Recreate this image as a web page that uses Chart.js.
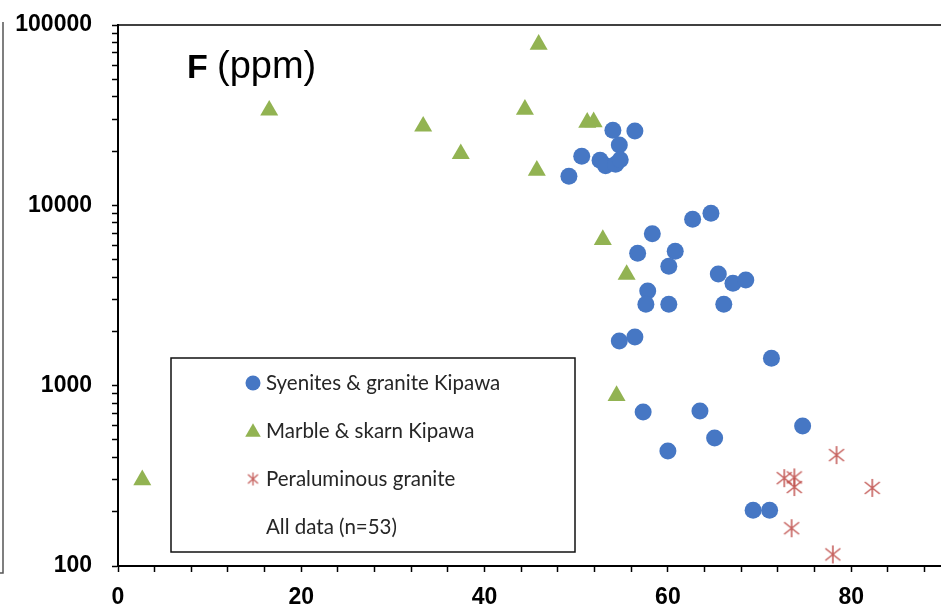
<!DOCTYPE html>
<html>
<head>
<meta charset="utf-8">
<script src="https://cdn.jsdelivr.net/npm/chart.js@4.4.1/dist/chart.umd.min.js"></script>
<style>
  html, body { margin: 0; padding: 0; background: #fff; overflow: hidden; }
  canvas { display: block; }
</style>
</head>
<body>
<canvas id="chart" width="941" height="613"></canvas>
<script>
// F (ppm) against x, three rock groups
var syeniteX = [54.0, 56.4, 54.7, 50.6, 52.6, 53.2, 54.3, 54.8, 49.2, 62.7, 64.7, 58.3, 56.7, 60.8, 60.1, 65.5,
                67.1, 68.5, 57.8, 57.6, 60.1, 66.1, 54.7, 56.4, 71.3, 57.3, 63.5, 65.1, 60.0, 74.7, 69.3, 71.1];
var syeniteF = [26100, 25800, 21600, 18700, 17800, 16600, 16900, 17900, 14500, 8380, 9050, 6950, 5430, 5570, 4600, 4160,
                3700, 3850, 3345, 2830, 2830, 2830, 1770, 1860, 1420, 714, 723, 512, 434, 597, 204, 204];

var marbleX = [2.65, 16.5, 33.3, 37.4, 45.9, 44.4, 45.7, 51.2, 51.9, 52.9, 55.5, 54.4];
var marbleF = [300, 33600, 27400, 19300, 78000, 34000, 15600, 28800, 29000, 6450, 4130, 880];

var peralX = [78.4, 72.7, 73.8, 73.8, 82.3, 73.5, 78.0];
var peralF = [412, 307, 310, 274, 271, 162, 116];

var xTickLabels = [0, 20, 40, 60, 80];
var yTickLabels = [100, 1000, 10000, 100000];

var blue = '#4677C4';
var green = '#92B352';
var red = 'rgba(192, 80, 77, 0.9)';

function pairs(xs, ys) {
  return xs.map(function (x, i) { return { x: x, y: ys[i] }; });
}

// Excel style star: an X with a vertical bar
function starMarker(w, h, lw) {
  var c = document.createElement('canvas');
  c.width = w; c.height = h;
  var g = c.getContext('2d');
  g.strokeStyle = red;
  g.lineWidth = lw;
  g.beginPath();
  g.moveTo(w / 2, 1); g.lineTo(w / 2, h - 1);
  g.moveTo(1.5, h * 0.2); g.lineTo(w - 1.5, h * 0.8);
  g.moveTo(w - 1.5, h * 0.2); g.lineTo(1.5, h * 0.8);
  g.stroke();
  return c;
}
var star = starMarker(18, 20, 1.6);
var starSmall = starMarker(13, 15, 1.3);

// log minor ticks 1..9 per decade
var yTicks = [];
for (var d = 0; d < yTickLabels.length - 1; d++) {
  for (var k = 1; k < 10; k++) yTicks.push(yTickLabels[d] * k);
}
yTicks.push(yTickLabels[yTickLabels.length - 1]);

var fontFamily = '"Liberation Sans", Arial, sans-serif';

function noPadding(s) {
  s.paddingLeft = 0; s.paddingRight = 0; s.paddingTop = 0; s.paddingBottom = 0;
}

var overlay = {
  id: 'overlay',
  afterDraw: function (chart) {
    var ctx = chart.ctx, a = chart.chartArea;
    ctx.save();
    // top frame line
    ctx.strokeStyle = '#000';
    ctx.lineWidth = 1.5;
    ctx.beginPath(); ctx.moveTo(a.left, a.top); ctx.lineTo(a.right, a.top); ctx.stroke();
    // left panel edge
    ctx.strokeStyle = '#555';
    ctx.lineWidth = 1.5;
    ctx.beginPath(); ctx.moveTo(3, 22); ctx.lineTo(3, 573); ctx.lineTo(0, 573); ctx.stroke();

    // title
    ctx.fillStyle = '#000';
    ctx.textBaseline = 'alphabetic';
    ctx.textAlign = 'left';
    ctx.font = 'bold 34px ' + fontFamily;
    ctx.fillText('F', 187, 78);
    ctx.font = '38px ' + fontFamily;
    ctx.fillText('(ppm)', 217, 78);

    // legend box
    var bx = 171, by = 358, bw = 404, bh = 194;
    ctx.strokeStyle = '#111';
    ctx.lineWidth = 1.5;
    ctx.strokeRect(bx, by, bw, bh);
    ctx.font = '20.5px Lato, "Open Sans", sans-serif';
    ctx.textBaseline = 'middle';
    chart.data.datasets.forEach(function (ds, i) {
      var cy = 383 + i * 48, mx = 253;
      if (ds.pointStyle === 'circle') {
        ctx.fillStyle = ds.backgroundColor;
        ctx.beginPath(); ctx.arc(mx, cy, 7.5, 0, Math.PI * 2); ctx.fill();
      } else if (ds.pointStyle === 'triangle') {
        var r = 9;
        ctx.fillStyle = ds.backgroundColor;
        ctx.beginPath();
        ctx.moveTo(mx, cy - r * 0.85);
        ctx.lineTo(mx + r * 0.866, cy + r * 0.65);
        ctx.lineTo(mx - r * 0.866, cy + r * 0.65);
        ctx.closePath(); ctx.fill();
      } else if (ds.pointStyle instanceof HTMLCanvasElement) {
        ctx.drawImage(starSmall, mx - 6.5, cy - 7.5);
      }
      ctx.fillStyle = '#262626';
      ctx.fillText(ds.label, 266, cy);
    });
    ctx.restore();
  }
};

new Chart(document.getElementById('chart'), {
  type: 'scatter',
  data: {
    datasets: [
      {
        label: 'Syenites & granite Kipawa',
        data: pairs(syeniteX, syeniteF),
        pointStyle: 'circle',
        pointRadius: 8.5,
        backgroundColor: blue,
        borderColor: blue,
        borderWidth: 0
      },
      {
        label: 'Marble & skarn Kipawa',
        data: pairs(marbleX, marbleF),
        pointStyle: 'triangle',
        pointRadius: 10.4,
        backgroundColor: green,
        borderColor: green,
        borderWidth: 0
      },
      {
        label: 'Peraluminous granite',
        data: pairs(peralX, peralF),
        pointStyle: star,
        pointRadius: 9,
        backgroundColor: red,
        borderColor: red
      },
      {
        label: 'All data (n=53)',
        data: [],
        pointRadius: 0
      }
    ]
  },
  options: {
    responsive: false,
    animation: false,
    events: [],
    layout: { autoPadding: false, padding: { top: 25, right: 0, left: 0, bottom: 0 } },
    plugins: {
      legend: { display: false },
      tooltip: { enabled: false }
    },
    scales: {
      x: {
        type: 'linear',
        min: 0,
        max: 89.8,
        afterFit: function (s) { s.height = 47; noPadding(s); },
        ticks: {
          stepSize: 4,
          autoSkip: false,
          includeBounds: false,
          maxRotation: 0,
          padding: 12,
          color: '#000',
          font: { family: fontFamily, size: 23, weight: 'bold' },
          callback: function (v) { return xTickLabels.indexOf(v) >= 0 ? String(v) : ''; }
        },
        grid: { drawOnChartArea: false, tickLength: 6, color: '#000', tickWidth: 1.5 },
        border: { color: '#000', width: 2 }
      },
      y: {
        type: 'logarithmic',
        min: 100,
        max: 100000,
        afterFit: function (s) { s.width = 118; noPadding(s); },
        afterBuildTicks: function (s) {
          s.ticks = yTicks.map(function (v) { return { value: v, major: yTickLabels.indexOf(v) >= 0 }; });
        },
        ticks: {
          autoSkip: false,
          padding: 20,
          color: '#000',
          font: { family: fontFamily, size: 23, weight: 'bold' },
          callback: function (v) { return yTickLabels.indexOf(v) >= 0 ? String(v) : ''; }
        },
        grid: { drawOnChartArea: false, tickLength: 6, color: '#000', tickWidth: 1.5 },
        border: { color: '#000', width: 2 }
      }
    }
  },
  plugins: [overlay]
});
</script>
</body>
</html>
